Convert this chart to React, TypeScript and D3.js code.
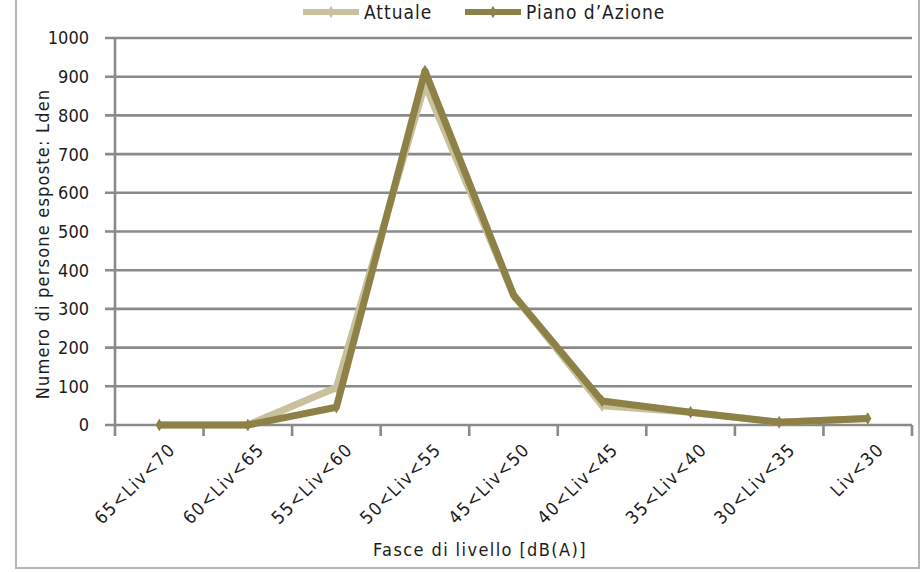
import React from 'react';
import * as d3 from 'd3';

const W = 924;
const H = 572;
const MARGIN = { top: 38, right: 12, bottom: 147, left: 115 };

const categories = [
  '65<Liv<70', '60<Liv<65', '55<Liv<60', '50<Liv<55', '45<Liv<50',
  '40<Liv<45', '35<Liv<40', '30<Liv<35', 'Liv<30',
];
const attuale = [0, 0, 97, 880, 336, 50, 33, 7, 17];
const pianoAzione = [0, 0, 46, 915, 336, 62, 33, 7, 17];
const yTicks = [0, 100, 200, 300, 400, 500, 600, 700, 800, 900, 1000];

const series = [
  { name: 'Attuale', values: attuale, color: '#c8c19b' },
  { name: "Piano d'Azione", values: pianoAzione, color: '#8d8147' },
];

const FONT = '"DejaVu Sans Condensed", "DejaVu Sans", sans-serif';
const GRID = '#8a8a8a';
const TEXT = '#1c1c1c';

const App = () => {
  const boundsWidth = W - MARGIN.left - MARGIN.right;
  const boundsHeight = H - MARGIN.top - MARGIN.bottom;

  const xScale = d3.scaleBand().domain(categories).range([0, boundsWidth]);
  const yScale = d3.scaleLinear().domain([0, 1000]).range([boundsHeight, 0]);

  const line = d3
    .line<number>()
    .x((_, i) => (xScale(categories[i]) ?? 0) + xScale.bandwidth() / 2)
    .y((d) => yScale(d));

  const diamond = d3.symbol().type(d3.symbolDiamond).size(45)() ?? '';

  const boundaries = d3.range(categories.length + 1).map((i) => i * xScale.step());

  return (
    <svg width={W} height={H} style={{ position: 'absolute', left: 0, top: 0 }}>
      <rect x={0} y={0} width={W} height={H} fill="#fff" />
      <rect x={16} y={-10} width={903} height={578} fill="none" stroke="#b5b5b5" strokeWidth={2} />

      {/* legend */}
      {series.map((s, i) => {
        const lx = i === 0 ? 303 : 465;
        return (
          <g key={s.name} transform={`translate(${lx},12)`}>
            <line x1={0} x2={56} y1={0} y2={0} stroke={s.color} strokeWidth={6} />
            <path d={diamond} transform="translate(28,0)" fill={s.color} />
            <text x={61} y={7} fontFamily={FONT} fontSize={19} letterSpacing={1} fill={TEXT}>
              {s.name.replace("'", '\u2019')}
            </text>
          </g>
        );
      })}

      <g transform={`translate(${MARGIN.left},${MARGIN.top})`}>
        {/* grid + y ticks */}
        {yTicks.map((t) => (
          <g key={t}>
            <line x1={-10} x2={boundsWidth} y1={yScale(t)} y2={yScale(t)} stroke={GRID} strokeWidth={2.6} />
            <text
              x={-26}
              y={yScale(t)}
              dy="0.36em"
              textAnchor="end"
              fontFamily={FONT}
              fontSize={18}
              fill={TEXT}
            >
              {t}
            </text>
          </g>
        ))}
        {/* y axis */}
        <line x1={0} x2={0} y1={0} y2={boundsHeight} stroke={GRID} strokeWidth={2.6} />

        {/* x ticks */}
        {boundaries.map((b, i) => (
          <line key={i} x1={b} x2={b} y1={boundsHeight} y2={boundsHeight + 11} stroke={GRID} strokeWidth={2.6} />
        ))}
        {categories.map((c) => {
          const cx = (xScale(c) ?? 0) + xScale.bandwidth() / 2;
          return (
            <text
              key={c}
              transform={`translate(${cx + 13},${boundsHeight + 21}) rotate(-45)`}
              textAnchor="end"
              dy="0.35em"
              fontFamily={FONT}
              fontSize={18}
              letterSpacing={1.6}
              fill={TEXT}
            >
              {c}
            </text>
          );
        })}

        {/* lines */}
        {series.map((s) => (
          <g key={s.name}>
            <path d={line(s.values) ?? ''} fill="none" stroke={s.color} strokeWidth={7} strokeLinejoin="round" />
            {s.values.map((v, i) => (
              <path
                key={i}
                d={diamond}
                transform={`translate(${(xScale(categories[i]) ?? 0) + xScale.bandwidth() / 2},${yScale(v)})`}
                fill={s.color}
              />
            ))}
          </g>
        ))}

        {/* axis titles */}
        <text
          x={480 - MARGIN.left}
          y={556 - MARGIN.top}
          textAnchor="middle"
          fontFamily={FONT}
          fontSize={18}
          letterSpacing={1.4}
          fill={TEXT}
        >
          Fasce di livello [dB(A)]
        </text>
        <text
          transform={`translate(${49 - MARGIN.left},${244 - MARGIN.top}) rotate(-90)`}
          textAnchor="middle"
          fontFamily={FONT}
          fontSize={18}
          letterSpacing={1.2}
          fill={TEXT}
        >
          Numero di persone esposte: Lden
        </text>
      </g>
    </svg>
  );
};

export default App;
